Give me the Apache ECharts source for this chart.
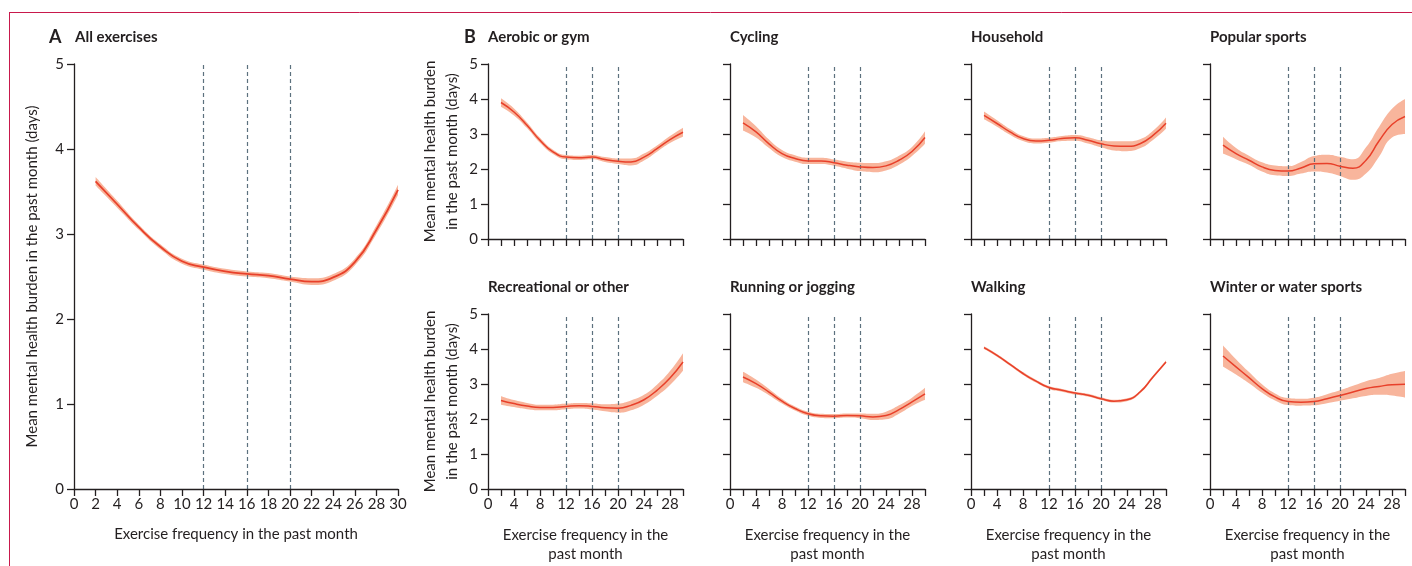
<!DOCTYPE html>
<html>
<head>
<meta charset="utf-8">
<script src="https://cdn.jsdelivr.net/npm/echarts@6/dist/echarts.min.js"></script>
<style>html,body{margin:0;padding:0;background:#fff;}#c{width:1412px;height:566px;}</style>
</head>
<body>
<div id="c"></div>
<script>
// ---- data ----
const xs = [2,4,6,8,10,12,14,16,18,20,22,24,26,28,30];
const refLines = [12,16,20];

const allMean = [3.62,3.35,3.08,2.85,2.68,2.61,2.56,2.53,2.51,2.47,2.44,2.49,2.67,3.05,3.52];
const allLo   = [3.57,3.31,3.05,2.82,2.65,2.58,2.53,2.50,2.48,2.44,2.40,2.45,2.63,3.00,3.46];
const allHi   = [3.67,3.39,3.11,2.88,2.71,2.64,2.59,2.56,2.54,2.50,2.48,2.53,2.71,3.10,3.58];

const aerobicMean = [3.90,3.63,3.25,2.82,2.49,2.34,2.32,2.34,2.27,2.22,2.20,2.34,2.58,2.84,3.05];
const aerobicLo   = [3.78,3.53,3.17,2.75,2.43,2.28,2.26,2.28,2.20,2.14,2.10,2.24,2.49,2.74,2.92];
const aerobicHi   = [4.02,3.73,3.33,2.89,2.55,2.40,2.38,2.40,2.34,2.30,2.30,2.44,2.67,2.94,3.18];

const cyclingMean = [3.32,3.06,2.72,2.44,2.30,2.23,2.23,2.18,2.11,2.06,2.04,2.09,2.25,2.50,2.90];
const cyclingLo   = [3.10,2.90,2.60,2.34,2.21,2.14,2.14,2.09,2.01,1.94,1.91,1.96,2.12,2.37,2.72];
const cyclingHi   = [3.54,3.22,2.84,2.54,2.39,2.32,2.32,2.27,2.21,2.18,2.17,2.22,2.38,2.63,3.08];

const householdMean = [3.53,3.30,3.06,2.87,2.80,2.82,2.87,2.89,2.82,2.72,2.66,2.65,2.72,2.96,3.31];
const householdLo   = [3.42,3.21,2.98,2.80,2.73,2.75,2.80,2.81,2.73,2.62,2.53,2.51,2.59,2.83,3.15];
const householdHi   = [3.64,3.39,3.14,2.94,2.87,2.89,2.94,2.97,2.91,2.82,2.79,2.79,2.85,3.09,3.47];

const popularMean = [2.68,2.44,2.25,2.06,1.96,1.94,2.03,2.15,2.16,2.08,2.02,2.25,2.80,3.27,3.50];
const popularLo   = [2.44,2.28,2.12,1.93,1.82,1.80,1.87,1.93,1.90,1.80,1.69,1.87,2.35,2.90,3.00];
const popularHi   = [2.92,2.60,2.38,2.19,2.10,2.08,2.20,2.37,2.41,2.35,2.28,2.62,3.20,3.72,4.00];

const recreationalMean = [2.53,2.44,2.37,2.33,2.33,2.36,2.38,2.36,2.32,2.31,2.39,2.55,2.82,3.17,3.63];
const recreationalLo   = [2.41,2.34,2.28,2.25,2.25,2.28,2.30,2.27,2.22,2.18,2.25,2.41,2.66,2.97,3.38];
const recreationalHi   = [2.65,2.54,2.46,2.41,2.41,2.44,2.46,2.45,2.42,2.44,2.53,2.69,2.98,3.37,3.88];

const runningMean = [3.20,3.01,2.77,2.51,2.30,2.15,2.09,2.08,2.10,2.09,2.06,2.10,2.27,2.49,2.72];
const runningLo   = [3.05,2.89,2.68,2.44,2.24,2.09,2.03,2.02,2.04,2.02,1.97,1.99,2.15,2.37,2.55];
const runningHi   = [3.35,3.13,2.86,2.58,2.36,2.21,2.15,2.14,2.16,2.16,2.15,2.21,2.39,2.61,2.89];

const walkingMean = [4.04,3.82,3.56,3.30,3.08,2.90,2.82,2.74,2.68,2.58,2.51,2.55,2.77,3.20,3.63];
const walkingLo   = [4.00,3.78,3.52,3.26,3.04,2.86,2.78,2.70,2.64,2.54,2.47,2.51,2.73,3.16,3.59];
const walkingHi   = [4.08,3.86,3.60,3.34,3.12,2.94,2.86,2.78,2.72,2.62,2.55,2.59,2.81,3.24,3.67];

const winterMean = [3.80,3.49,3.18,2.87,2.63,2.50,2.48,2.50,2.58,2.67,2.77,2.87,2.93,2.98,2.99];
const winterLo   = [3.50,3.27,3.02,2.75,2.53,2.40,2.38,2.39,2.45,2.52,2.59,2.66,2.69,2.67,2.61];
const winterHi   = [4.10,3.71,3.34,2.99,2.73,2.60,2.58,2.61,2.71,2.82,2.95,3.08,3.17,3.29,3.37];

const titles = ['All exercises','Aerobic or gym','Cycling','Household','Popular sports',
                'Recreational or other','Running or jogging','Walking','Winter or water sports'];
const yName1 = 'Mean mental health burden in the past month (days)';
const yName2 = 'Mean mental health burden\nin the past month (days)';
const xName1 = 'Exercise frequency in the past month';
const xName2 = 'Exercise frequency in the\npast month';

// ---- layout / style ----
const FONT = 'Lato';
const INK = '#231f20';
const LINE = '#e8402a';
const BAND = '#f8b59c';
const DASH = '#5c717e';

const series = [
  [allMean, allLo, allHi], [aerobicMean, aerobicLo, aerobicHi], [cyclingMean, cyclingLo, cyclingHi],
  [householdMean, householdLo, householdHi], [popularMean, popularLo, popularHi],
  [recreationalMean, recreationalLo, recreationalHi], [runningMean, runningLo, runningHi],
  [walkingMean, walkingLo, walkingHi], [winterMean, winterLo, winterHi]
];

const colLeft = [488, 730, 971, 1210];
const rowTop = [64, 314];
const grids = [{left: 74, top: 64, width: 324, height: 425}];
for (let r = 0; r < 2; r++) for (let c = 0; c < 4; c++)
  grids.push({left: colLeft[c], top: rowTop[r], width: 195, height: 175});

const axisLineStyle = {color: INK, width: 1.3};
const xAxes = [], yAxes = [], allSeries = [], titleArr = [];

grids.forEach((g, i) => {
  const isA = i === 0;
  const row = isA ? -1 : (i <= 4 ? 0 : 1);
  const col = isA ? -1 : (i - 1) % 4;
  const showX = isA || row === 1;
  const showY = isA || col === 0;
  xAxes.push({
    gridIndex: i, type: 'value', min: 0, max: 30, interval: 2, z: 10,
    axisLine: {show: true, lineStyle: axisLineStyle},
    axisTick: {show: true, length: 7, lineStyle: axisLineStyle},
    splitLine: {show: false},
    axisLabel: {
      show: showX, fontFamily: FONT, fontSize: 15, color: INK, margin: 8,
      formatter: v => isA ? String(v) : (v % 4 === 0 ? String(v) : '')
    },
    name: showX ? (isA ? xName1 : xName2) : '',
    nameLocation: 'middle', nameGap: isA ? 36 : 37,
    nameTextStyle: {fontFamily: FONT, fontSize: 15, color: INK, lineHeight: 19}
  });
  yAxes.push({
    gridIndex: i, type: 'value', min: 0, max: 5, interval: 1, z: 10,
    axisLine: {show: true, lineStyle: axisLineStyle},
    axisTick: {show: true, length: 7, lineStyle: axisLineStyle},
    splitLine: {show: false},
    axisLabel: {show: showY, fontFamily: FONT, fontSize: 15, color: INK, margin: 10},
    name: showY ? (isA ? yName1 : yName2) : '',
    nameLocation: 'middle', nameGap: isA ? 31 : 25,
    nameTextStyle: {fontFamily: FONT, fontSize: 15, color: INK, lineHeight: 22}
  });
  const [m, lo, hi] = series[i];
  const stack = 'band' + i;
  // stacked band: lower bound (invisible) + width (filled). Value stored first so it is the stacked dimension.
  allSeries.push({
    type: 'line', xAxisIndex: i, yAxisIndex: i, smooth: true, z: 2, stack: stack,
    showSymbol: false, silent: true, lineStyle: {opacity: 0},
    encode: {x: 1, y: 0},
    data: xs.map((x, k) => [lo[k], x])
  });
  allSeries.push({
    type: 'line', xAxisIndex: i, yAxisIndex: i, smooth: true, z: 2, stack: stack,
    showSymbol: false, silent: true, lineStyle: {opacity: 0},
    areaStyle: {color: BAND, opacity: 1},
    encode: {x: 1, y: 0},
    data: xs.map((x, k) => [+(hi[k] - lo[k]).toFixed(3), x])
  });
  // mean line + reference dashed lines
  allSeries.push({
    type: 'line', xAxisIndex: i, yAxisIndex: i, smooth: true, z: 5,
    showSymbol: false, silent: true, lineStyle: {color: LINE, width: isA ? 1.8 : 1.5},
    data: xs.map((x, k) => [x, m[k]]),
    markLine: {
      silent: true, symbol: ['none', 'none'], label: {show: false}, z: 4,
      lineStyle: {type: [4, 3], color: DASH, width: 1.2},
      data: refLines.map(v => ({xAxis: v}))
    }
  });
  titleArr.push({
    text: titles[i], left: g.left + (isA ? 1 : 0), top: isA ? 30 : (row === 0 ? 30 : 280),
    padding: 0,
    textStyle: {fontFamily: FONT, fontSize: 15, fontWeight: 'bold', color: INK}
  });
});
titleArr.push({text: 'A', left: 49, top: 28, padding: 0,
  textStyle: {fontFamily: FONT, fontSize: 18, fontWeight: 'bold', color: INK}});
titleArr.push({text: 'B', left: 464, top: 28, padding: 0,
  textStyle: {fontFamily: FONT, fontSize: 18, fontWeight: 'bold', color: INK}});

const chart = echarts.init(document.getElementById('c'), null, {renderer: 'canvas'});
chart.setOption({
  animation: false,
  backgroundColor: '#ffffff',
  title: titleArr,
  grid: grids,
  xAxis: xAxes,
  yAxis: yAxes,
  series: allSeries,
  graphic: [
    {type: 'line', shape: {x1: 9, y1: 12.5, x2: 1412, y2: 12.5}, style: {stroke: '#c8194c', lineWidth: 1}},
    {type: 'line', shape: {x1: 9.5, y1: 12, x2: 9.5, y2: 566}, style: {stroke: '#c8194c', lineWidth: 1}}
  ]
});
</script>
</body>
</html>
